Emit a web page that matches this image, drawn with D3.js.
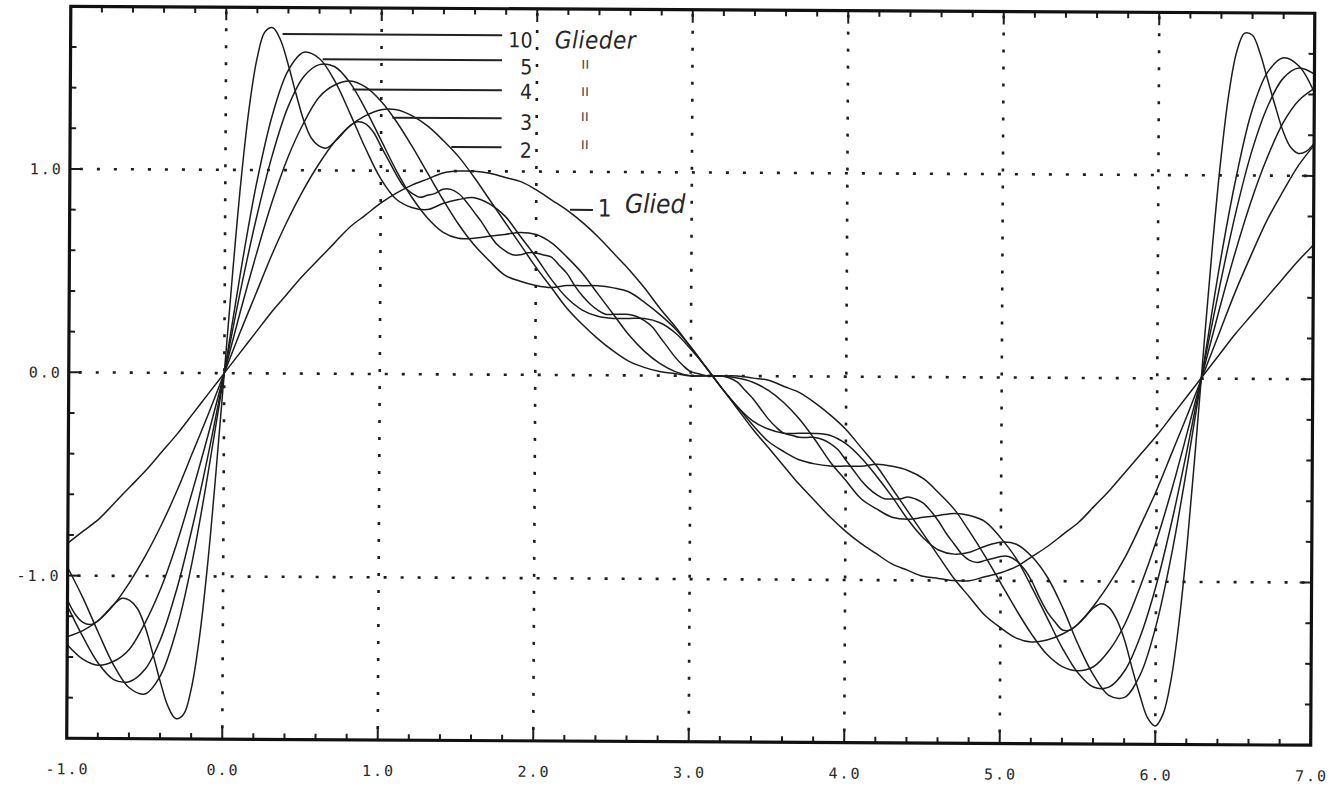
<!DOCTYPE html>
<html>
<head>
<meta charset="utf-8">
<script src="https://cdn.jsdelivr.net/npm/d3@7"></script>
<style>
  html, body { margin: 0; padding: 0; background: #ffffff; }
  svg { display: block; }
</style>
</head>
<body>
<svg id="chart" width="1341" height="787"></svg>
<script>
// Partial sums of the Fourier series sin(x) + sin(2x)/2 + ... with 1, 2, 3, 4, 5 and 10 terms.
const termCounts = [1, 2, 3, 4, 5, 10];
const xStart = -1;
const stepCoarse = 0.1;   // spacing of the samples for 1..5 terms
const stepFine = 0.05;    // spacing of the samples for 10 terms

const glied1 = [
  -0.84,-0.78,-0.72,-0.64,-0.56,-0.48,-0.39,-0.30,-0.20,-0.10, 0.00, 0.10, 0.20, 0.30, 0.39, 0.48, 0.56, 0.64, 0.72, 0.78,
   0.84, 0.89, 0.93, 0.96, 0.99, 1.00, 1.00, 0.99, 0.97, 0.95, 0.91, 0.86, 0.81, 0.75, 0.68, 0.60, 0.52, 0.43, 0.33, 0.24,
   0.14, 0.04,-0.06,-0.16,-0.26,-0.35,-0.44,-0.53,-0.61,-0.69,-0.76,-0.82,-0.87,-0.92,-0.95,-0.98,-0.99,-1.00,-1.00,-0.98,
  -0.96,-0.93,-0.88,-0.83,-0.77,-0.71,-0.63,-0.55,-0.46,-0.37,-0.28,-0.18,-0.08, 0.02, 0.12, 0.22, 0.31, 0.40, 0.49, 0.58,
   0.66
];
const glied2 = [
  -1.30,-1.27,-1.22,-1.14,-1.03,-0.90,-0.75,-0.58,-0.39,-0.20, 0.00, 0.20, 0.39, 0.58, 0.75, 0.90, 1.03, 1.14, 1.22, 1.27,
   1.30, 1.30, 1.27, 1.22, 1.15, 1.07, 0.97, 0.86, 0.75, 0.64, 0.53, 0.43, 0.33, 0.25, 0.18, 0.12, 0.07, 0.04, 0.02, 0.01,
   0.00, 0.00, 0.00, 0.00,-0.01,-0.02,-0.05,-0.08,-0.13,-0.19,-0.26,-0.35,-0.44,-0.55,-0.66,-0.77,-0.88,-0.99,-1.08,-1.17,
  -1.23,-1.28,-1.30,-1.29,-1.26,-1.21,-1.12,-1.01,-0.88,-0.72,-0.55,-0.36,-0.17, 0.03, 0.23, 0.43, 0.61, 0.78, 0.92, 1.05,
   1.15
];
const glied3 = [
  -1.34,-1.41,-1.44,-1.42,-1.36,-1.23,-1.06,-0.84,-0.58,-0.30, 0.00, 0.30, 0.58, 0.84, 1.06, 1.23, 1.36, 1.42, 1.44, 1.41,
   1.34, 1.24, 1.12, 0.99, 0.86, 0.74, 0.64, 0.56, 0.49, 0.46, 0.44, 0.43, 0.44, 0.44, 0.44, 0.43, 0.41, 0.36, 0.30, 0.23,
   0.14, 0.04,-0.06,-0.15,-0.24,-0.32,-0.37,-0.41,-0.43,-0.44,-0.44,-0.44,-0.43,-0.44,-0.46,-0.50,-0.57,-0.65,-0.76,-0.88,
  -1.01,-1.14,-1.26,-1.36,-1.42,-1.44,-1.42,-1.34,-1.21,-1.02,-0.80,-0.54,-0.25, 0.05, 0.35, 0.63, 0.88, 1.09, 1.26, 1.37,
   1.43
];
const glied4 = [
  -1.15,-1.30,-1.43,-1.51,-1.52,-1.46,-1.31,-1.07,-0.76,-0.40, 0.00, 0.40, 0.76, 1.07, 1.31, 1.46, 1.52, 1.51, 1.43, 1.30,
   1.15, 1.00, 0.87, 0.77, 0.70, 0.67, 0.67, 0.68, 0.69, 0.70, 0.69, 0.65, 0.58, 0.50, 0.40, 0.30, 0.20, 0.12, 0.06, 0.02,
   0.00, 0.00, 0.00,-0.01,-0.03,-0.07,-0.13,-0.21,-0.31,-0.42,-0.51,-0.60,-0.65,-0.69,-0.70,-0.69,-0.68,-0.67,-0.68,-0.71,
  -0.79,-0.89,-1.03,-1.18,-1.33,-1.45,-1.52,-1.52,-1.44,-1.27,-1.02,-0.70,-0.33, 0.07, 0.46, 0.82, 1.12, 1.34, 1.48, 1.53,
   1.50
];
const glied5 = [
  -0.96,-1.11,-1.28,-1.44,-1.55,-1.58,-1.49,-1.27,-0.93,-0.49, 0.00, 0.49, 0.93, 1.27, 1.49, 1.58, 1.55, 1.44, 1.28, 1.11,
   0.96, 0.86, 0.82, 0.81, 0.84, 0.86, 0.87, 0.84, 0.78, 0.68, 0.58, 0.47, 0.38, 0.32, 0.29, 0.28, 0.28, 0.28, 0.26, 0.21,
   0.13, 0.04,-0.06,-0.15,-0.22,-0.26,-0.28,-0.28,-0.28,-0.29,-0.33,-0.40,-0.49,-0.59,-0.70,-0.79,-0.85,-0.87,-0.86,-0.83,
  -0.81,-0.82,-0.88,-0.98,-1.13,-1.31,-1.46,-1.56,-1.57,-1.46,-1.22,-0.86,-0.41, 0.08, 0.57, 0.99, 1.32, 1.51, 1.58, 1.54,
   1.41
];
const glied10 = [
  -1.12,-1.19,-1.23,-1.24,-1.22,-1.18,-1.14,-1.11,-1.12,-1.16,-1.25,-1.38,-1.52,-1.64,-1.70,-1.68,-1.55,-1.30,-0.94,-0.49,
   0.00, 0.49, 0.94, 1.30, 1.55, 1.68, 1.70, 1.64, 1.52, 1.38, 1.25, 1.16, 1.12, 1.11, 1.14, 1.18, 1.22, 1.24, 1.23, 1.19,
   1.12, 1.05, 0.98, 0.92, 0.89, 0.87, 0.88, 0.89, 0.91, 0.91, 0.89, 0.85, 0.80, 0.75, 0.69, 0.64, 0.61, 0.59, 0.59, 0.60,
   0.60, 0.59, 0.58, 0.54, 0.50, 0.44, 0.39, 0.35, 0.32, 0.30, 0.30, 0.30, 0.30, 0.29, 0.27, 0.24, 0.19, 0.14, 0.09, 0.05,
   0.02, 0.01, 0.00, 0.00, 0.00,-0.01,-0.03,-0.07,-0.11,-0.16,-0.21,-0.25,-0.28,-0.29,-0.30,-0.30,-0.30,-0.31,-0.33,-0.36,
  -0.41,-0.46,-0.51,-0.55,-0.58,-0.60,-0.60,-0.60,-0.59,-0.60,-0.62,-0.66,-0.71,-0.77,-0.82,-0.87,-0.90,-0.91,-0.90,-0.89,
  -0.88,-0.88,-0.90,-0.94,-1.00,-1.08,-1.15,-1.20,-1.24,-1.24,-1.21,-1.17,-1.13,-1.11,-1.13,-1.19,-1.29,-1.43,-1.56,-1.67,
  -1.71,-1.65,-1.48,-1.19,-0.80,-0.33, 0.17, 0.65, 1.07, 1.40, 1.61, 1.70, 1.69, 1.60, 1.47, 1.34, 1.22, 1.14, 1.11, 1.12,
   1.16
];

const seriesValues = [glied1, glied2, glied3, glied4, glied5, glied10];
const seriesSteps = [stepCoarse, stepCoarse, stepCoarse, stepCoarse, stepCoarse, stepFine];

// Axes
const xDomain = [-1, 7];
const yDomain = [-1.8, 1.8];
const xTickValues = [-1, 0, 1, 2, 3, 4, 5, 6, 7];
const xTickLabels = ["-1.0", "0.0", "1.0", "2.0", "3.0", "4.0", "5.0", "6.0", "7.0"];
const yTickValues = [-1, 0, 1];
const yTickLabels = ["-1.0", "0.0", "1.0"];
const xGridValues = [0, 1, 2, 3, 4, 5, 6];
const yGridValues = [-1, 0, 1];

// Hand-written annotations, placed in data units
const leaderTerms = ["10", "5", "4", "3", "2"];
const leaderFrom = [0.363, 0.622, 0.815, 1.072, 1.452];
const leaderLevel = [1.669, 1.547, 1.399, 1.261, 1.119];
const leaderLabelBase = [1.610, 1.478, 1.356, 1.205, 1.067];
const dittoLevel = [1.526, 1.393, 1.270, 1.132];

// ---------------------------------------------------------------
const svg = d3.select("#chart");
const frame = { left: 68.75, right: 1312.75, top: 9.75, bottom: 741.75 };
const tilt = 0.32, cx = 690.75, cy = 375.75;

svg.append("rect").attr("width", 1341).attr("height", 787).attr("fill", "#ffffff");

const g = svg.append("g").attr("transform", `rotate(${tilt},${cx},${cy})`);

const x = d3.scaleLinear().domain(xDomain).range([frame.left, frame.right]);
const y = d3.scaleLinear().domain(yDomain).range([frame.bottom, frame.top]);

const ink = "#1d1d1d";

// Dotted grid
const dots = "3 14";
g.append("g").selectAll("line").data(xGridValues).join("line")
  .attr("x1", d => x(d)).attr("x2", d => x(d))
  .attr("y1", frame.top + 4).attr("y2", frame.bottom)
  .attr("stroke", ink).attr("stroke-width", 2.6).attr("stroke-dasharray", dots);
g.append("g").selectAll("line").data(yGridValues).join("line")
  .attr("x1", frame.left + 10).attr("x2", frame.right)
  .attr("y1", d => y(d)).attr("y2", d => y(d))
  .attr("stroke", ink).attr("stroke-width", 2.6).attr("stroke-dasharray", dots);

// Curves
g.append("clipPath").attr("id", "plotClip").append("rect")
  .attr("x", frame.left).attr("y", frame.top)
  .attr("width", frame.right - frame.left).attr("height", frame.bottom - frame.top);

const line = d3.line()
  .x(d => x(d[0])).y(d => y(d[1]))
  .curve(d3.curveCatmullRom.alpha(0.5));

const curves = termCounts.map((n, i) => ({
  terms: n,
  points: seriesValues[i].map((v, j) => [xStart + j * seriesSteps[i], v])
}));

g.append("g").attr("clip-path", "url(#plotClip)")
  .selectAll("path").data(curves).join("path")
  .attr("d", d => line(d.points))
  .attr("fill", "none").attr("stroke", ink).attr("stroke-width", 1.5)
  .attr("stroke-linejoin", "round");

// Tick marks on all four sides, pointing inwards
const xMinor = d3.range(0, 41).map(i => -1 + i * 0.2).filter(v => v > -0.99 && v < 6.99);
const yMinor = d3.range(0, 19).map(i => -1.8 + i * 0.2).filter(v => v > -1.79 && v < 1.79);
const isMajor = v => Math.abs(v - Math.round(v)) < 1e-6;

const ticks = g.append("g").attr("stroke", ink).attr("stroke-width", 2);
xMinor.forEach(v => {
  const len = isMajor(v) ? 13 : 6;
  ticks.append("line").attr("x1", x(v)).attr("x2", x(v)).attr("y1", frame.bottom).attr("y2", frame.bottom - len);
  ticks.append("line").attr("x1", x(v)).attr("x2", x(v)).attr("y1", frame.top).attr("y2", frame.top + len);
});
yMinor.forEach(v => {
  const len = isMajor(v) ? 12 : 6;
  ticks.append("line").attr("y1", y(v)).attr("y2", y(v)).attr("x1", frame.left).attr("x2", frame.left + len);
  ticks.append("line").attr("y1", y(v)).attr("y2", y(v)).attr("x1", frame.right).attr("x2", frame.right - len);
});

// Frame
g.append("rect")
  .attr("x", frame.left).attr("y", frame.top)
  .attr("width", frame.right - frame.left).attr("height", frame.bottom - frame.top)
  .attr("fill", "none").attr("stroke", "#111").attr("stroke-width", 3.2);

// Tick labels
const labelFont = "'DejaVu Sans Mono', monospace";
g.append("g").selectAll("text").data(xTickValues).join("text")
  .attr("x", d => x(d) + 1).attr("y", frame.bottom + 36)
  .attr("text-anchor", "middle")
  .attr("font-family", labelFont).attr("font-size", 15).attr("letter-spacing", 2)
  .attr("fill", "#2a2a2a")
  .text((d, i) => xTickLabels[i]);
g.append("g").selectAll("text").data(yTickValues).join("text")
  .attr("x", frame.left - 7).attr("y", d => y(d) + 5.5)
  .attr("text-anchor", "end")
  .attr("font-family", labelFont).attr("font-size", 15).attr("letter-spacing", 2)
  .attr("fill", "#2a2a2a")
  .text((d, i) => yTickLabels[i]);

// Annotations
const hand = "'Liberation Sans Narrow', 'DejaVu Sans Condensed', sans-serif";
const notes = g.append("g").attr("fill", "#262626");
const leaderEnd = 1.775, labelRight = 1.97;
leaderTerms.forEach((t, i) => {
  notes.append("line")
    .attr("x1", x(leaderFrom[i])).attr("x2", x(leaderEnd))
    .attr("y1", y(leaderLevel[i])).attr("y2", y(leaderLevel[i]))
    .attr("stroke", "#222").attr("stroke-width", 2);
  notes.append("text")
    .attr("x", x(labelRight)).attr("y", y(leaderLabelBase[i]))
    .attr("text-anchor", "end")
    .attr("font-family", hand).attr("font-size", 21)
    .text(t);
});
notes.append("text")
  .attr("x", x(2.114)).attr("y", y(1.607))
  .attr("font-family", hand).attr("font-size", 24).attr("font-style", "italic")
  .attr("letter-spacing", 0.5)
  .text("Glieder");
dittoLevel.forEach(v => {
  notes.append("text")
    .attr("x", x(2.31)).attr("y", y(v) + 4)
    .attr("text-anchor", "middle")
    .attr("font-family", hand).attr("font-size", 16).attr("fill", "#444")
    .text("ıı");
});
notes.append("line")
  .attr("x1", x(2.217)).attr("x2", x(2.365))
  .attr("y1", y(0.813)).attr("y2", y(0.813))
  .attr("stroke", "#222").attr("stroke-width", 2);
notes.append("text")
  .attr("x", x(2.397)).attr("y", y(0.78))
  .attr("font-family", hand).attr("font-size", 24)
  .text("1");
notes.append("text")
  .attr("x", x(2.571)).attr("y", y(0.80))
  .attr("font-family", hand).attr("font-size", 26).attr("font-style", "italic")
  .text("Glied");
</script>
</body>
</html>
